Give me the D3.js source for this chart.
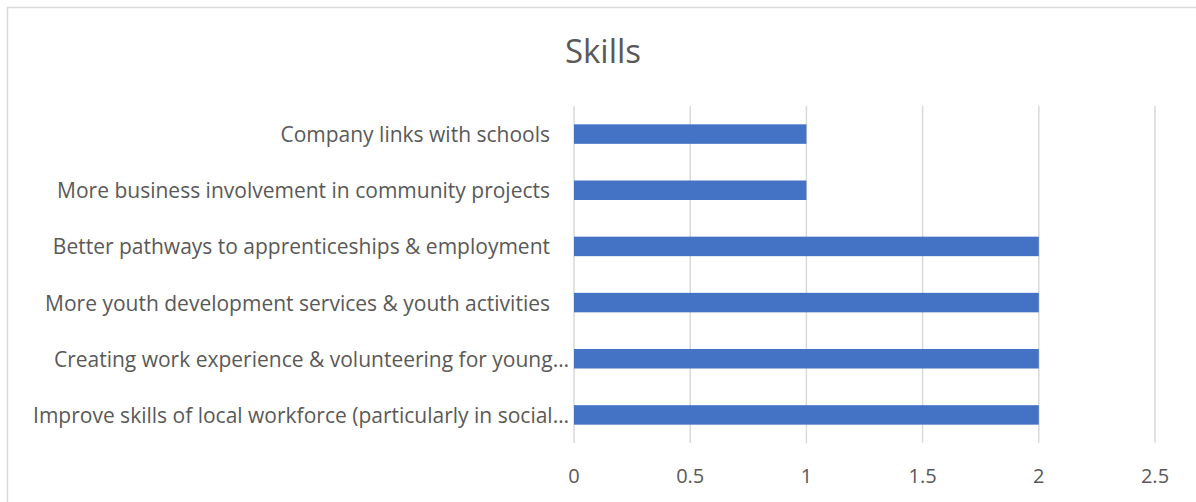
<!DOCTYPE html>
<html><head><meta charset="utf-8">
<script src="https://cdn.jsdelivr.net/npm/d3@7"></script>
<style>body{margin:0;background:#fff}svg{display:block}</style>
</head><body>
<svg id="c" width="1196" height="502"></svg>
<script>
const title = "Skills";
const categories = [
  "Company links with schools",
  "More business involvement in community projects",
  "Better pathways to apprenticeships & employment",
  "More youth development services & youth activities",
  "Creating work experience & volunteering for young…",
  "Improve skills of local workforce (particularly in social…"
];
const values = [1, 1, 2, 2, 2, 2];
const xTicks = [0, 0.5, 1, 1.5, 2, 2.5];

(function () {
const svg = d3.select("#c");
const font = "'Open Sans', sans-serif";
const textColor = "#595959";

svg.append("rect").attr("x", 7.5).attr("y", 7.5).attr("width", 1200).attr("height", 520)
  .attr("fill", "none").attr("stroke", "#d9d9d9").attr("stroke-width", 1.5);

const pL = 574, pR = 1155, pT = 106, pB = 443;
const x = d3.scaleLinear().domain([0, 2.5]).range([pL, pR]);
const y = d3.scaleBand().domain(categories).range([pT, pB]).paddingInner(0.653).paddingOuter(0.3265);

svg.append("g").selectAll("line").data(xTicks).join("line")
  .attr("x1", d => x(d)).attr("x2", d => x(d)).attr("y1", pT).attr("y2", pB)
  .attr("stroke", "#d9d9d9").attr("stroke-width", 1.5);

svg.append("g").selectAll("rect").data(categories).join("rect")
  .attr("x", x(0)).attr("y", d => y(d))
  .attr("width", (d, i) => x(values[i]) - x(0)).attr("height", y.bandwidth())
  .attr("fill", "#4472C4");

svg.append("g").selectAll("text").data(categories).join("text")
  .attr("x", d => d.endsWith("…") ? pL - 5 : pL - 24)
  .attr("y", d => y(d) + y.bandwidth() / 2)
  .attr("text-anchor", "end").attr("dominant-baseline", "central")
  .attr("font-family", font).attr("font-size", 21).attr("fill", textColor)
  .text(d => d);

svg.append("g").selectAll("text").data(xTicks).join("text")
  .attr("x", d => x(d)).attr("y", 475)
  .attr("text-anchor", "middle").attr("dominant-baseline", "central")
  .attr("font-family", font).attr("font-size", 20).attr("fill", textColor)
  .text(d => d);

svg.append("text").attr("x", 603).attr("y", 50)
  .attr("text-anchor", "middle").attr("dominant-baseline", "central")
  .attr("font-family", font).attr("font-size", 33).attr("fill", textColor)
  .text(title);
})();
</script>
</body></html>
